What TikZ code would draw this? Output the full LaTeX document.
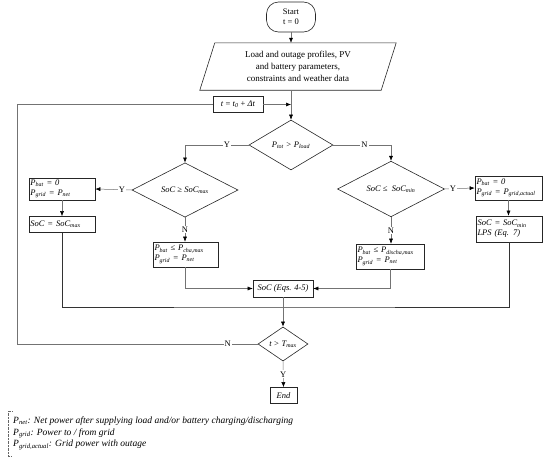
\documentclass[tikz,border=0pt]{standalone}
\usepackage{fontspec}
\setmainfont{Liberation Serif}
\usetikzlibrary{arrows.meta, shapes.geometric, calc}

\newcommand{\vr}[2]{\textit{#1}\textsubscript{\textit{#2}}}

\begin{document}
\begin{tikzpicture}[
    x=1pt, y=-1pt,
    font=\fontsize{8.5}{10}\selectfont,
    % one style per kind of block, connectors drawn grey with black tips
    term/.style     = {draw=black!85, line width=0.6pt, rounded corners=12pt, align=center,
                       minimum width=49, minimum height=30, inner sep=1pt},
    box/.style      = {draw=black!85, line width=0.6pt, inner sep=1.5pt,
                       font=\fontsize{8.5}{10}\selectfont\itshape},
    lbox/.style     = {box, align=left, text width=#1},
    decision/.style = {draw=black!85, line width=0.6pt, shape=diamond, inner sep=0pt,
                       font=\fontsize{8.5}{10}\selectfont\itshape},
    conn/.style     = {draw=black!55, line width=0.5pt},
    arr/.style      = {conn, -{Latex[length=5pt, width=4pt, color=black]}},
    lab/.style      = {fill=white, inner sep=1pt, font=\fontsize{8.5}{10}\selectfont},
    notebox/.style  = {align=left, inner sep=1pt, font=\fontsize{9.5}{11.5}\selectfont\itshape},
  ]
  \useasboundingbox (0,0) rectangle (550,463);

  %% ---------- top: start, input data and time step ----------
  \node[term] (start) at (291,17) {Start\\t = 0};

  \node[align=center, minimum width=181, minimum height=47, inner sep=0pt,
        font=\fontsize{9}{12}\selectfont] (input) at (298,66.5)
       {Load and outage profiles, PV\\and battery parameters,\\constraints and weather data};
  \draw[draw=black!85, line width=0.6pt]
       ($(input.south west)+(-7.5,0)$) -- ($(input.north west)+(7.5,0)$) --
       ($(input.north east)+(7.5,0)$) -- ($(input.south east)+(-7.5,0)$) -- cycle;

  \node[box, font=\fontsize{8.5}{10}\selectfont, minimum width=50, minimum height=16] (tstep) at (238,104.5)
       {\textit{t} = \vr{t}{0} + \textit{Δt}};
  \coordinate (join) at (291,104.5);

  %% ---------- decisions ----------
  \node[decision, minimum width=84, minimum height=50] (dnet) at (291,145) {\vr{P}{tot} > \vr{P}{load}};
  \node[decision, minimum width=106, minimum height=46] (dmax) at (185,190) {SoC ≥ \vr{SoC}{max}};
  \node[decision, minimum width=107, minimum height=49] (dmin) at (391,189) {SoC ≤\ \ \vr{SoC}{min}};

  %% ---------- left: charging ----------
  \node[lbox=63, minimum height=22] (lbox1) at (62,189)
       {\vr{P}{bat} = 0\\\vr{P}{grid} = \vr{P}{net}};
  \node[lbox=63, minimum height=16] (lbox2) at (62,224.5) {SoC = \vr{SoC}{max}};
  \node[lbox=62, minimum height=25] (cbox1) at (185.5,254.5)
       {\vr{P}{bat} ≤ \vr{P}{cha,max}\\\vr{P}{grid} = \vr{P}{net}};

  %% ---------- right: discharging ----------
  \node[lbox=65, minimum height=25] (cbox2) at (390,256.5)
       {\vr{P}{bat} ≤ \vr{P}{discha,max}\\\vr{P}{grid} = \vr{P}{net}};
  \node[lbox=64, minimum height=24] (rbox1) at (508.5,188)
       {\vr{P}{bat} = 0\\\vr{P}{grid} = \vr{P}{grid,actual}};
  \node[lbox=63, minimum height=26] (rbox2) at (509,229)
       {SoC = \vr{SoC}{min}\\LPS (Eq. 7)};

  %% ---------- bottom: state of charge, time check, end ----------
  \node[box, minimum width=60, minimum height=17] (soc) at (283,288.5) {SoC (Eqs. 4-5)};
  \coordinate (merge) at (283,307);
  \node[decision, minimum width=50, minimum height=28] (dtime) at (283,344) {t > \vr{T}{max}};
  \node[box, minimum width=27, minimum height=16] (stop) at (283.5,395.5) {End};
  \coordinate (back) at (17,344);

  %% ---------- connectors ----------
  \draw[arr] (start.south) -- (start.south |- input.north);
  \draw[arr] (join |- input.south) -- (dnet.north);
  \draw[arr] (tstep.east) -- (join);
  \draw[arr] (dnet.west) -| node[lab, pos=0.17] {Y} (dmax.north);
  \draw[arr] (dnet.east) -| node[lab, pos=0.27] {N} (dmin.north);
  \draw[arr] (dmax.west) -- node[lab, pos=0.27] {Y} (lbox1.east);
  \draw[arr] (dmin.east) -- node[lab, pos=0.27] {Y} (rbox1.west);
  \draw[arr] (lbox1.south) -- (lbox2.north);
  \draw[arr] (rbox1.south) -- (rbox1.south |- rbox2.north);
  \draw[arr] (dmax.south) -- node[lab] {N} (dmax.south |- cbox1.north);
  \draw[arr] (dmin.south) -- node[lab] {N} (dmin.south |- cbox2.north);
  \draw[arr] (cbox1.south) |- (soc.west);
  \draw[arr] (cbox2.south) |- (soc.east);
  \draw[conn, line width=0.6pt, draw=black!80] (lbox2.south) |- (merge) -| (rbox2.south);
  \draw[arr] (soc.south) -- (dtime.north);
  \draw[conn] (dtime.west) -- node[lab, pos=0.125] {N} (back) |- (tstep.west);
  \draw[arr] (dtime.south) -- node[lab] {Y} (stop.north);

  %% ---------- notes ----------
  \node[notebox, anchor=north west] (notes) at (12,416)
       {\vr{P}{net}: Net power after supplying load and/or battery charging/discharging\\
        \vr{P}{grid}: Power to / from grid\\
        \vr{P}{grid,actual}: Grid power with outage};
  \draw[densely dotted, black!60] ([xshift=0pt, yshift=5pt]notes.north west) -- ++(-4,0)
       |- ([yshift=-5pt]notes.south west);
\end{tikzpicture}
\end{document}
